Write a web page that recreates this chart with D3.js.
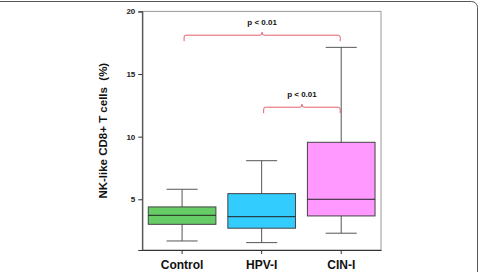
<!DOCTYPE html>
<html>
<head>
<meta charset="utf-8">
<script src="https://cdn.jsdelivr.net/npm/d3@7"></script>
<style>
  body { margin: 0; background: #fff; }
  text { font-family: "Liberation Sans", Arial, sans-serif; font-weight: bold; }
</style>
</head>
<body>
<script>
// box plot data
var groups = ["Control", "HPV-I", "CIN-I"];
var lowWhisker = [1.67, 1.54, 2.29];
var q1 = [3.0, 2.69, 3.67];
var median = [3.72, 3.61, 5.0];
var q3 = [4.39, 5.45, 9.55];
var highWhisker = [5.8, 8.08, 17.13];
var fills = ["#66cc66", "#33ccff", "#ff99ff"];
var yTicks = [5, 10, 15, 20];

// significance brackets: [from group, to group, level, label]
var brackets = [
  ["Control", "CIN-I", 18.1, "p < 0.01"],
  ["HPV-I", "CIN-I", 12.35, "p < 0.01"]
];

function draw()
{
    var width = 482, height = 272;
    var left = 142.3, right = 381, top = 11.4, bottom = 250;

    var svg = d3.select("body").append("svg")
        .attr("width", width)
        .attr("height", height);

    // outer frame of the figure
    svg.append("rect")
        .attr("x", -10).attr("y", 1.5)
        .attr("width", 487.5).attr("height", 300)
        .attr("rx", 6)
        .attr("fill", "none")
        .attr("stroke", "#555")
        .attr("stroke-width", 1);

    var x = d3.scaleBand().domain(groups).range([left, right]).padding(0);
    var y = d3.scaleLinear().domain([0.95, 20]).range([bottom, top]);

    // plot border
    svg.append("rect")
        .attr("x", left).attr("y", top)
        .attr("width", right - left).attr("height", bottom - top)
        .attr("fill", "none")
        .attr("stroke", "#999");

    var yAxis = svg.append("g")
        .attr("transform", "translate(" + left + ",0)")
        .call(d3.axisLeft(y).tickValues(yTicks).tickSize(4).tickPadding(3));
    yAxis.select(".domain").attr("stroke", "#333");
    yAxis.selectAll(".tick line").attr("stroke", "#333");
    yAxis.selectAll("text").attr("font-size", 8).attr("fill", "#222")
        .attr("font-family", "Liberation Sans Narrow, Liberation Sans, Arial");

    var xAxis = svg.append("g")
        .attr("transform", "translate(0," + bottom + ")")
        .call(d3.axisBottom(x).tickSize(4).tickPadding(6).tickSizeOuter(0));
    xAxis.select(".domain").attr("stroke", "#333");
    xAxis.selectAll(".tick line").attr("stroke", "#333");
    xAxis.selectAll("text").attr("font-size", 12).attr("fill", "#111");

    var bw = x.bandwidth();
    var boxW = bw * 0.85, capW = bw * 0.39;

    var box = svg.selectAll("g.box")
        .data(groups)
        .enter()
        .append("g")
        .attr("class", "box");

    box.append("line")
        .attr("x1", function (d) { return x(d) + bw / 2; })
        .attr("x2", function (d) { return x(d) + bw / 2; })
        .attr("y1", function (d, i) { return y(lowWhisker[i]); })
        .attr("y2", function (d, i) { return y(highWhisker[i]); })
        .attr("stroke", "#555");

    [lowWhisker, highWhisker].forEach(function (arr)
    {
        box.append("line")
            .attr("x1", function (d) { return x(d) + bw / 2 - capW / 2; })
            .attr("x2", function (d) { return x(d) + bw / 2 + capW / 2; })
            .attr("y1", function (d, i) { return y(arr[i]); })
            .attr("y2", function (d, i) { return y(arr[i]); })
            .attr("stroke", "#555");
    });

    box.append("rect")
        .attr("x", function (d) { return x(d) + bw / 2 - boxW / 2; })
        .attr("y", function (d, i) { return y(q3[i]); })
        .attr("width", boxW)
        .attr("height", function (d, i) { return y(q1[i]) - y(q3[i]); })
        .attr("fill", function (d, i) { return fills[i]; })
        .attr("stroke", "#444");

    box.append("line")
        .attr("x1", function (d) { return x(d) + bw / 2 - boxW / 2; })
        .attr("x2", function (d) { return x(d) + bw / 2 + boxW / 2; })
        .attr("y1", function (d, i) { return y(median[i]); })
        .attr("y2", function (d, i) { return y(median[i]); })
        .attr("stroke", "#222");

    // brackets
    var br = svg.selectAll("g.bracket")
        .data(brackets)
        .enter()
        .append("g")
        .attr("class", "bracket");

    br.append("path")
        .attr("d", function (d)
        {
            var x1 = x(d[0]) + bw / 2 + 2, x2 = x(d[1]) + bw / 2 - 1;
            var yy = y(d[2]), mx = (x1 + x2) / 2, r = 2;
            return "M" + x1 + "," + (yy + 6) + "V" + (yy + r) + "Q" + x1 + "," + yy + " " + (x1 + r) + "," + yy +
                   "H" + (mx - r) + "Q" + mx + "," + yy + " " + mx + "," + (yy - 3) +
                   "Q" + mx + "," + yy + " " + (mx + r) + "," + yy +
                   "H" + (x2 - r) + "Q" + x2 + "," + yy + " " + x2 + "," + (yy + r) + "V" + (yy + 6);
        })
        .attr("fill", "none")
        .attr("stroke", "#e0505a")
        .attr("stroke-width", 0.9);

    br.append("text")
        .attr("x", function (d) { return (x(d[0]) + x(d[1]) + bw) / 2 + 0.5; })
        .attr("y", function (d) { return y(d[2]) - 10.5; })
        .attr("text-anchor", "middle")
        .attr("font-size", 8)
        .attr("fill", "#111")
        .text(function (d) { return d[3]; });

    // y axis title
    svg.append("text")
        .attr("transform", "translate(107," + ((top + bottom) / 2) + ") rotate(-90)")
        .attr("text-anchor", "middle")
        .attr("font-size", 11.5)
        .attr("fill", "#111")
        .attr("xml:space", "preserve")
        .style("white-space", "pre")
        .text("NK-like CD8+ T cells  (%)");
}
window.onload = draw;
</script>
</body>
</html>
